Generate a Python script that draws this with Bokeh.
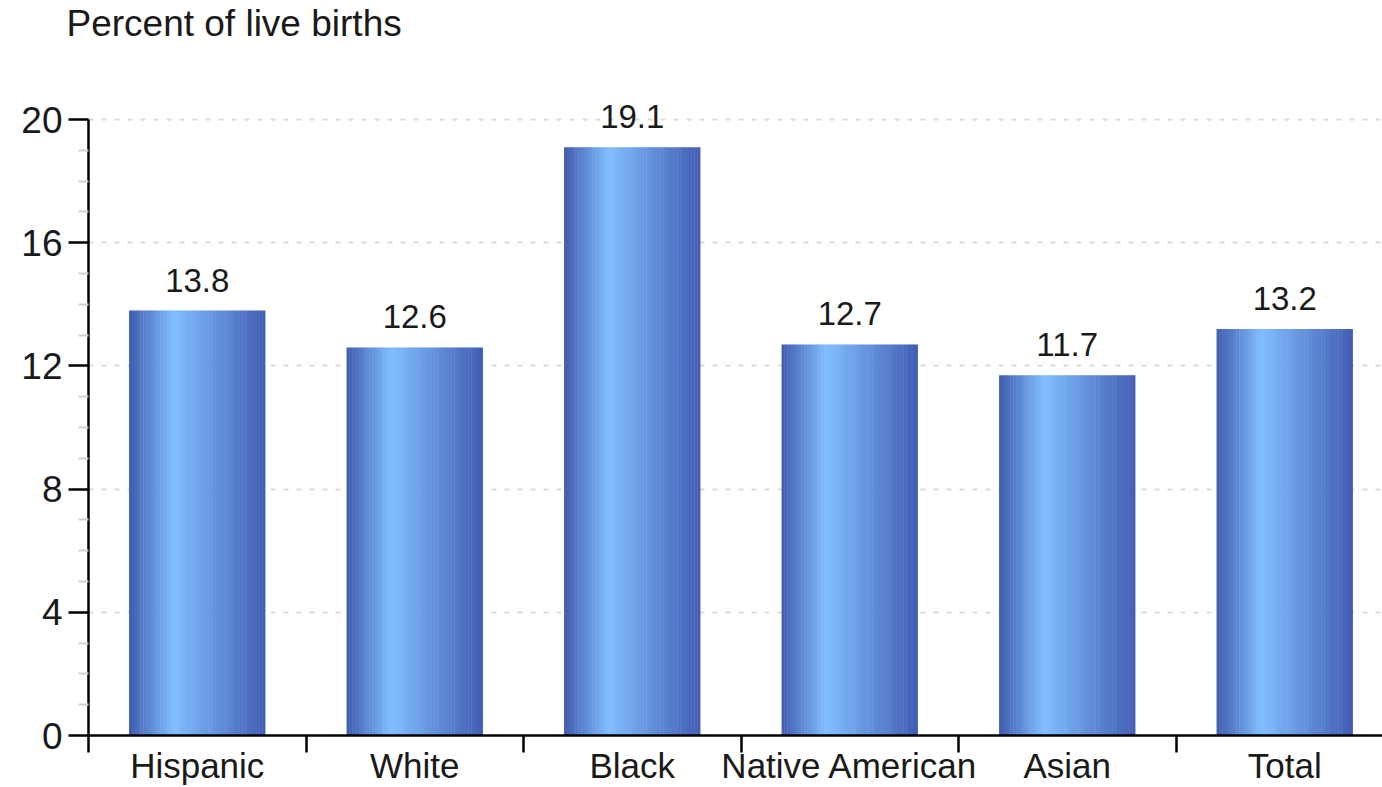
from bokeh.plotting import figure
from bokeh.models import ColumnDataSource, Range1d, FixedTicker, LabelSet, LinearAxis, Title
from bokeh.core.properties import value
from bokeh.embed import file_html
from bokeh.resources import INLINE

categories = ["Hispanic", "White", "Black", "Native American", "Asian", "Total"]
values = [13.8, 12.6, 19.1, 12.7, 11.7, 13.2]
value_labels = ["13.8", "12.6", "19.1", "12.7", "11.7", "13.2"]
y_ticks = [0, 4, 8, 12, 16, 20]
title_text = "Percent of live births"

FONT = "Liberation Sans"
BAR_W = 0.625
N_STRIPES = 48
stops = [(0.0, (64, 92, 176)), (0.33, (128, 190, 255)), (1.0, (66, 94, 180))]


def grad(t):
    for (t0, c0), (t1, c1) in zip(stops[:-1], stops[1:]):
        if t0 <= t <= t1:
            f = (t - t0) / (t1 - t0)
            return "#%02x%02x%02x" % tuple(int(round(a + (b - a) * f)) for a, b in zip(c0, c1))
    return "#%02x%02x%02x" % stops[-1][1]


centers = [i + 0.5 for i in range(len(categories))]
sx, stop_, scol = [], [], []
sw = BAR_W / N_STRIPES
for c, v in zip(centers, values):
    for k in range(N_STRIPES):
        t = (k + 0.5) / N_STRIPES
        sx.append(c - BAR_W / 2 + (k + 0.5) * sw)
        stop_.append(v)
        scol.append(grad(t))
stripes = ColumnDataSource(dict(x=sx, top=stop_, color=scol))
labels_src = ColumnDataSource(dict(x=centers, y=values, text=value_labels))

W, H = 1382, 787
LEFT = 88
TOP = 96
x_end = (W - LEFT) / 217.5

p = figure(width=W, height=H, output_backend="svg", toolbar_location=None,
           x_range=Range1d(0, x_end), y_range=Range1d(0, 20.75),
           min_border_left=LEFT, min_border_right=0, min_border_top=TOP, min_border_bottom=0,
           x_axis_location=None, y_axis_location=None)
p.outline_line_color = None
p.background_fill_color = "white"
p.border_fill_color = "white"

# spacer panel between the frame and the title, so the title sits at the top
p.add_layout(Title(text=" ", text_font_size="8px", standoff=42), "above")

p.title.text = title_text
p.title.text_font = FONT
p.title.text_font_size = "37px"
p.title.text_font_style = "normal"
p.title.text_color = "#1a1a1a"
p.title.align = "left"
p.title.offset = -22
p.title.standoff = 0

p.vbar(x="x", top="top", bottom=0, width=sw * 1.15, color="color", source=stripes, line_color=None)

p.add_layout(LabelSet(x="x", y="y", text="text", source=labels_src, text_align="center",
                      text_baseline="alphabetic", y_offset=19, text_font=value(FONT),
                      text_font_size="33px", text_color="#1a1a1a"))

# y axis
yax = LinearAxis(ticker=FixedTicker(ticks=y_ticks, minor_ticks=[t for t in range(21) if t % 4]))
yax.bounds = (0, 20)
yax.axis_line_width = 2.5
yax.axis_line_color = "black"
yax.major_tick_out = 20
yax.major_tick_in = 0
yax.major_tick_line_width = 2.5
yax.major_tick_line_color = "black"
yax.minor_tick_out = 10
yax.minor_tick_in = 0
yax.minor_tick_line_color = "#d0d0d0"
yax.minor_tick_line_width = 2
yax.major_label_standoff = 6
yax.major_label_text_font = FONT
yax.major_label_text_font_size = "37px"
yax.major_label_text_color = "#1a1a1a"
p.add_layout(yax, "left")

# x axis: labels at category centres, boundary ticks as minor ticks
xax = LinearAxis(ticker=FixedTicker(ticks=centers, minor_ticks=list(range(len(categories) + 1))))
xax.major_label_overrides = {c: n for c, n in zip(centers, categories)}
xax.axis_line_width = 2.5
xax.axis_line_color = "black"
xax.major_tick_out = 0
xax.major_tick_in = 0
xax.minor_tick_out = 17
xax.minor_tick_in = 0
xax.minor_tick_line_color = "black"
xax.minor_tick_line_width = 2.5
xax.major_label_standoff = -7
xax.major_label_text_font = FONT
xax.major_label_text_font_size = "35px"
xax.major_label_text_color = "#1a1a1a"
p.add_layout(xax, "below")

p.xgrid.visible = False
p.ygrid.ticker = FixedTicker(ticks=[4, 8, 12, 16, 20])
p.ygrid.grid_line_color = "#dcdcdc"
p.ygrid.grid_line_width = 2
p.ygrid.grid_line_dash = "5 8"

open("out.html", "w").write(file_html(p, INLINE))
